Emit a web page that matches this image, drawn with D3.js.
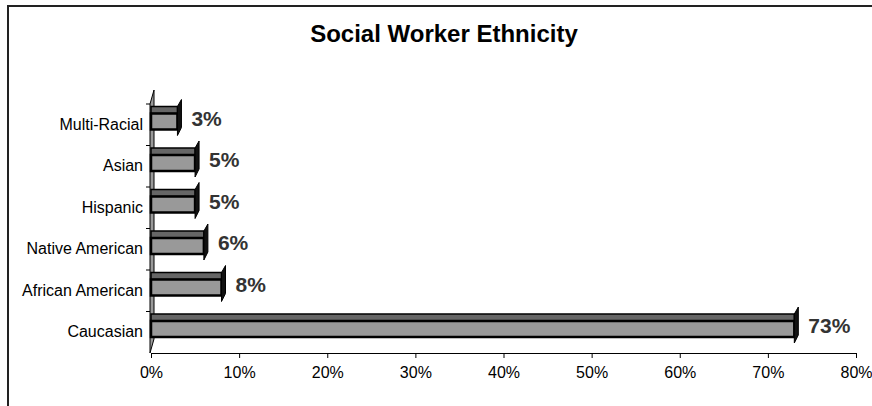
<!DOCTYPE html>
<html>
<head>
<meta charset="utf-8">
<script src="https://cdn.jsdelivr.net/npm/d3@7"></script>
<style>
  body { margin: 0; background: #fff; }
  text { font-family: Arial, "Liberation Sans", sans-serif; }
</style>
</head>
<body>
<div id="chart"></div>
<script>
// chart data
const categories = ['Caucasian', 'African American', 'Native American', 'Hispanic', 'Asian', 'Multi-Racial']
const values = [73, 8, 6, 5, 5, 3]
const xTicks = [0, 10, 20, 30, 40, 50, 60, 70, 80]

const width = 872
const height = 406
const plotLeft = 151
const plotRight = 856
const plotBottom = 353
const plotTop = 104

const svg = d3.select('#chart').append('svg')
    .attr('width', width)
    .attr('height', height)
    .style('display', 'block')

// outer frame
svg.append('rect')
    .attr('x', 8).attr('y', 6)
    .attr('width', width).attr('height', height)
    .attr('fill', 'none')
    .attr('stroke', '#222')
    .attr('stroke-width', 2)

svg.append('text')
    .attr('x', 444)
    .attr('y', 42)
    .attr('text-anchor', 'middle')
    .attr('font-size', 24)
    .attr('font-weight', 'bold')
    .text('Social Worker Ethnicity')

const xScale = d3.scaleLinear().domain([0, 80]).range([plotLeft, plotRight])
const yScale = d3.scaleBand().domain(categories).range([plotBottom, plotTop])

// left wall of the 3d plot
svg.append('polygon')
    .attr('points', [[plotLeft - 1, plotBottom], [plotLeft - 1, plotTop], [plotLeft + 3, plotTop - 14], [plotLeft + 3, plotBottom - 14]].join(' '))
    .attr('fill', '#999')
    .attr('stroke', '#000')
    .attr('stroke-width', 1)

// x axis
const xAxis = d3.axisBottom(xScale)
    .tickValues(xTicks)
    .tickSize(5)
    .tickPadding(0)
    .tickFormat(d => d + '%')
const gx = svg.append('g')
    .attr('transform', `translate(0,${plotBottom})`)
    .call(xAxis)
gx.select('.domain').attr('stroke', '#000')
gx.selectAll('text').attr('font-size', 16).attr('fill', '#000').attr('y', 25).attr('dy', null)

// y axis
const yAxis = d3.axisLeft(yScale).tickSize(0).tickPadding(7)
const gy = svg.append('g')
    .attr('transform', `translate(${plotLeft - 1},0)`)
    .call(yAxis)
gy.select('.domain').remove()
gy.selectAll('text').attr('font-size', 16).attr('fill', '#000')

// category separators on the y axis
svg.selectAll('.ytick')
    .data(categories)
    .enter()
    .append('line')
    .attr('x1', plotLeft - 5).attr('x2', plotLeft - 1)
    .attr('y1', d => yScale(d)).attr('y2', d => yScale(d))
    .attr('stroke', '#000')

const bars = svg.selectAll('.bar')
    .data(values)
    .enter()
    .append('g')
    .attr('class', 'bar')

const faceTop = (d, i) => yScale(categories[i]) + 9.5
const faceH = 16
const depth = 7

// top face
bars.append('rect')
    .attr('x', plotLeft)
    .attr('y', (d, i) => faceTop(d, i) - depth)
    .attr('width', d => xScale(d) - plotLeft)
    .attr('height', depth)
    .attr('fill', '#666')
    .attr('stroke', '#000')
    .attr('stroke-width', 1.5)

// front face
bars.append('rect')
    .attr('x', plotLeft)
    .attr('y', faceTop)
    .attr('width', d => xScale(d) - plotLeft)
    .attr('height', faceH)
    .attr('fill', '#999')
    .attr('stroke', '#000')
    .attr('stroke-width', 2.5)

// end cap
bars.append('polygon')
    .attr('points', (d, i) => {
        const x = xScale(d)
        const y = faceTop(d, i)
        return [[x, y + faceH + 6], [x, y - depth], [x + 4, y - depth - 7], [x + 4, y + faceH - 2]].join(' ')
    })
    .attr('fill', '#111')
    .attr('stroke', '#000')

// value labels
bars.append('text')
    .attr('x', d => xScale(d) + 14)
    .attr('y', (d, i) => yScale(categories[i]) + yScale.bandwidth() / 2 + 1)
    .attr('font-size', 21)
    .attr('font-weight', 'bold')
    .attr('fill', '#333')
    .text(d => d + '%')
</script>
</body>
</html>
